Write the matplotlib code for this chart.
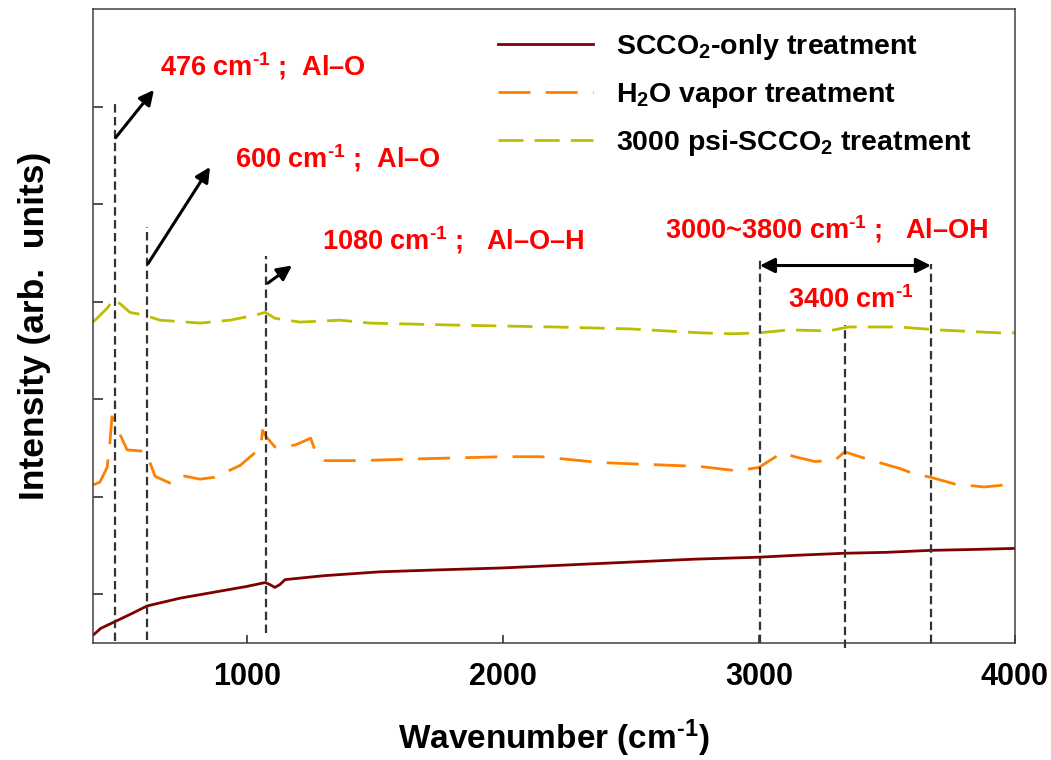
import matplotlib
matplotlib.use("Agg")
import matplotlib.pyplot as plt

# spectra (wavenumber in cm-1, intensity in arb. units)
scco2_x = [400, 430, 486, 550, 611, 740, 870, 1000, 1072, 1090, 1110, 1130, 1150, 1300, 1520,
           1750, 2000, 2250, 2500, 2750, 3000, 3150, 3330, 3500, 3670, 3850, 4000]
scco2_y = [0.58, 0.65, 0.72, 0.80, 0.88, 0.96, 1.02, 1.08, 1.12, 1.10, 1.07, 1.10, 1.15, 1.19, 1.23,
           1.25, 1.27, 1.30, 1.33, 1.36, 1.38, 1.40, 1.42, 1.43, 1.45, 1.46, 1.47]

h2o_x = [400, 427, 455, 466, 474, 493, 533, 580, 607, 642, 700, 740, 780, 818, 876, 974, 1032,
         1055, 1062, 1075, 1110, 1190, 1250, 1270, 1305, 1440, 1700, 2000, 2150, 2380, 2770, 2900,
         2950, 3000, 3060, 3090, 3140, 3220, 3300, 3335, 3430, 3550, 3600, 3670, 3765, 3880, 4000]
h2o_y = [2.12, 2.15, 2.30, 2.55, 2.82, 2.71, 2.48, 2.47, 2.46, 2.21, 2.14, 2.22, 2.20, 2.18, 2.20,
         2.32, 2.45, 2.50, 2.68, 2.62, 2.51, 2.53, 2.60, 2.45, 2.37, 2.37, 2.39, 2.41, 2.41, 2.35,
         2.31, 2.27, 2.28, 2.30, 2.40, 2.45, 2.41, 2.36, 2.38, 2.46, 2.38, 2.29, 2.24, 2.20, 2.13,
         2.10, 2.13]

psi_x = [400, 416, 458, 478, 505, 544, 603, 661, 818, 935, 1032, 1072, 1110, 1208, 1364, 1480,
         1800, 2200, 2500, 2770, 2900, 3000, 3117, 3273, 3350, 3545, 3700, 3935, 4000]
psi_y = [3.79, 3.83, 3.94, 4.02, 3.98, 3.89, 3.86, 3.81, 3.78, 3.81, 3.86, 3.89, 3.83, 3.79, 3.81,
         3.78, 3.76, 3.74, 3.72, 3.68, 3.67, 3.68, 3.71, 3.70, 3.74, 3.74, 3.71, 3.68, 3.68]

labels = ["SCCO$_2$-only treatment", "H$_2$O vapor treatment", "3000 psi-SCCO$_2$ treatment"]

# peak marker lines: position, bottom, top
vline_x = [486, 611, 1075, 3004, 3336, 3672]
vline_bot = [0.52, 0.53, 0.60, 0.50, 0.45, 0.50]
vline_top = [6.07, 4.77, 4.47, 4.45, 3.76, 4.39]

# arrows: tail -> head
arrow_tail = [(488, 5.68), (615, 4.39), (1083, 4.19)]
arrow_head = [(638, 6.17), (857, 5.38), (1177, 4.37)]

notes = ["476 cm$^{\\text{-1}}$ ;  Al–O", "600 cm$^{\\text{-1}}$ ;  Al–O",
         "1080 cm$^{\\text{-1}}$ ;   Al–O–H", "3000~3800 cm$^{\\text{-1}}$ ;   Al–OH",
         "3400 cm$^{\\text{-1}}$"]
note_xy = [(662, 6.32), (954, 5.37), (1294, 4.53), (2633, 4.65), (3113, 3.93)]

plt.rcParams["font.family"] = ["Liberation Sans", "DejaVu Sans"]
plt.rcParams["font.weight"] = "bold"
plt.rcParams["mathtext.fontset"] = "custom"
plt.rcParams["mathtext.rm"] = "Liberation Sans:bold"
plt.rcParams["mathtext.bf"] = "Liberation Sans:bold"
plt.rcParams["mathtext.default"] = "bf"

fig = plt.figure(figsize=(10.51, 7.6), dpi=100)
ax = fig.add_axes([0.0885, 0.1539, 0.8772, 0.8343])

ax.plot(scco2_x, scco2_y, color="#800000", lw=2.0, label=labels[0])
ax.plot(h2o_x, h2o_y, color="#FF8000", lw=2.0, linestyle=(0, (11.5, 5.5)), label=labels[1])
ax.plot(psi_x, psi_y, color="#BEBE00", lw=2.0, linestyle=(0, (9, 4)), label=labels[2])

for x, b, t in zip(vline_x, vline_bot, vline_top):
    ax.plot([x, x], [b, t], color="#333333", lw=1.6, linestyle=(0, (3.8, 2.0)), clip_on=False)

for (x0, y0), (x1, y1) in zip(arrow_tail, arrow_head):
    ax.annotate("", xy=(x1, y1), xytext=(x0, y0),
                arrowprops=dict(arrowstyle="-|>", lw=2.2, color="black",
                                mutation_scale=22, shrinkA=0, shrinkB=0))
ax.annotate("", xy=(vline_x[5], 4.37), xytext=(vline_x[3], 4.37),
            arrowprops=dict(arrowstyle="<|-|>", lw=2.2, color="black",
                            mutation_scale=22, shrinkA=0, shrinkB=0))

for s, (x, y) in zip(notes, note_xy):
    ax.text(x, y, s, color="#FF0000", fontsize=19.5, fontweight="bold", ha="left", va="baseline")

ax.set_xlim(400, 4000)
ax.set_ylim(0.5, 7.0)
ax.set_xticks([1000, 2000, 3000, 4000])
ax.set_yticks([1, 2, 3, 4, 5, 6])
ax.set_yticklabels([])
ax.tick_params(axis="x", direction="in", length=6, width=1.2, pad=14, labelsize=22, colors="#333333",
               labelcolor="black")
ax.tick_params(axis="y", direction="in", length=7, width=1.2, colors="#333333")
for sp in ax.spines.values():
    sp.set_color("#404040")
    sp.set_linewidth(1.1)

ax.set_xlabel("Wavenumber (cm$^{\\text{-1}}$)", fontsize=24, fontweight="bold", labelpad=18)
ax.set_ylabel("Intensity (arb.  units)", fontsize=25.5, fontweight="bold", labelpad=27)

ax.legend(loc="upper left", bbox_to_anchor=(0.439, 0.964), frameon=False, fontsize=20.5,
          handlelength=3.33, handletextpad=0.84, labelspacing=0.66, borderpad=0, borderaxespad=0)

fig.savefig("out.png", dpi=100)
